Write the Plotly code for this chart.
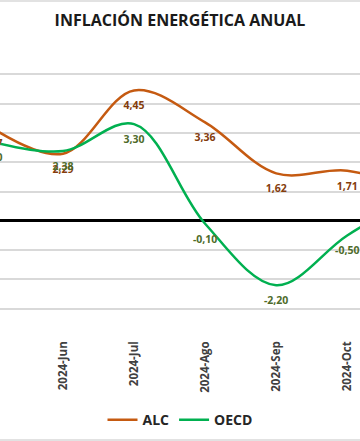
import plotly.graph_objects as go

months = ["2024-May", "2024-Jun", "2024-Jul", "2024-Ago", "2024-Sep", "2024-Oct", "2024-Nov"]
alc = [3.17, 2.29, 4.45, 3.36, 1.62, 1.71, 1.00]
oecd = [2.70, 2.38, 3.30, -0.10, -2.20, -0.50, 0.90]

def fmt(v):
    return f"{v:.2f}".replace(".", ",")

FONT = "Open Sans"

fig = go.Figure()
series = [("ALC", alc, "#C55A11", "#843C0C"), ("OECD", oecd, "#00B050", "#4E6B2A")]
for name, vals, lc, tc in series:
    fig.add_trace(go.Scatter(
        x=months, y=vals, name=name, mode="lines",
        line=dict(color=lc, width=2.5, shape="spline", smoothing=1),
        hoverinfo="skip",
    ))
for name, vals, lc, tc in series:
    fig.add_trace(go.Scatter(
        x=months, y=vals, name=name, mode="markers+text", showlegend=False,
        marker=dict(size=16, opacity=0, color=lc),
        text=[fmt(v) for v in vals], textposition="bottom center",
        textfont=dict(family=FONT, size=10.5, color=tc, weight="bold"),
        hoverinfo="skip",
    ))

fig.update_layout(
    width=360, height=441,
    margin=dict(l=0, r=0, t=45, b=103),
    paper_bgcolor="white", plot_bgcolor="white",
    title=dict(text="INFLACIÓN ENERGÉTICA ANUAL", x=0.5, xanchor="center",
               y=1 - 20 / 441, yanchor="middle",
               font=dict(family=FONT, size=16, color="#1a1a1a", weight="bold")),
    showlegend=True,
    legend=dict(orientation="h", x=0.5, xanchor="center", y=-0.28, yanchor="middle",
                font=dict(family=FONT, size=14, color="#262626", weight="bold"),
                itemwidth=30),
    xaxis=dict(type="category", range=[0.113, 5.18], showgrid=False,
               tickangle=-90, tickfont=dict(family=FONT, size=11.5, color="#404040", weight="bold"),
               showline=False, ticks=""),
    yaxis=dict(range=[-4, 6], dtick=1, showticklabels=False, gridcolor="#D9D9D9", gridwidth=1.5,
               zeroline=True, zerolinecolor="#000000", zerolinewidth=2.5, showline=False),
    shapes=[
        dict(type="line", xref="paper", yref="paper", x0=0, x1=1,
             y0=(338 - 440) / 293, y1=(338 - 440) / 293, line=dict(color="#D9D9D9", width=1.5)),
        dict(type="line", xref="paper", yref="paper", x0=0, x1=1,
             y0=(338 - 1) / 293, y1=(338 - 1) / 293, line=dict(color="#D9D9D9", width=1.5)),
    ],
)

fig.write_html("out.html", config={"displayModeBar": False},
               post_script="document.body.style.margin='0px';document.body.style.overflow='hidden';")
